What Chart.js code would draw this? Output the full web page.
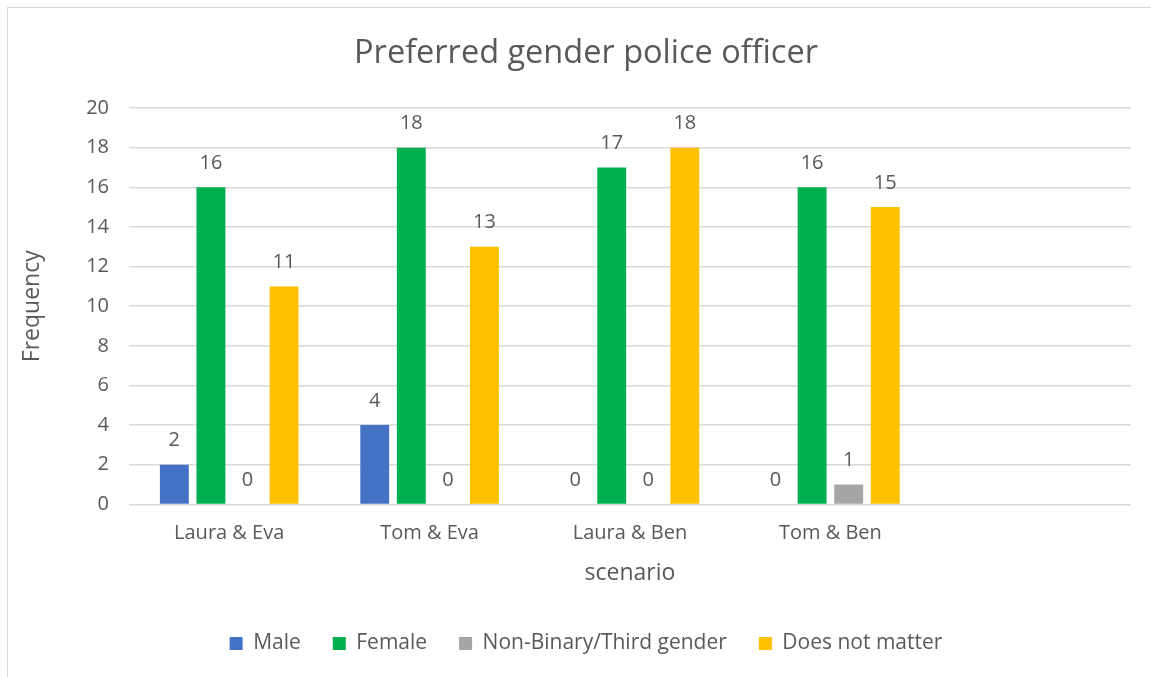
<!DOCTYPE html>
<html>
<head>
<meta charset="utf-8">
<script src="https://cdn.jsdelivr.net/npm/chart.js@4/dist/chart.umd.min.js"></script>
<style>
  html, body { margin: 0; padding: 0; background: #fff; overflow: hidden; }
  #box {
    position: absolute; left: 7px; top: 7px;
    width: 1154px; height: 670px;
    border-left: 1.5px solid #d9d9d9; border-top: 1.5px solid #d9d9d9;
  }
</style>
</head>
<body>
<div id="box"><canvas id="myChart"></canvas></div>
<script>
// scenarios (the last slot is left empty on purpose)
const scenarios = ['Laura & Eva', 'Tom & Eva', 'Laura & Ben', 'Tom & Ben', ''];
const male = [2, 4, 0, 0, null];
const female = [16, 18, 17, 16, null];
const nonBinary = [0, 0, 0, 1, null];
const noMatter = [11, 13, 18, 15, null];
const yTicks = [0, 2, 4, 6, 8, 10, 12, 14, 16, 18, 20];

const grey = '#595959';
const font = "'Open Sans', sans-serif";

// writes the value over each bar, like excel does
const valueLabels = {
  id: 'valueLabels',
  afterDatasetsDraw(chart) {
    const ctx = chart.ctx;
    ctx.save();
    ctx.fillStyle = grey;
    ctx.font = '20px ' + font;
    ctx.textAlign = 'center';
    ctx.textBaseline = 'bottom';
    chart.data.datasets.forEach((ds, i) => {
      chart.getDatasetMeta(i).data.forEach((bar, j) => {
        const v = ds.data[j];
        if (v === null || v === undefined) return;
        ctx.fillText(String(v), bar.x, bar.y - 14);
      });
    });
    ctx.restore();
  }
};

function bar(label, data, color) {
  return {
    label: label,
    data: data,
    backgroundColor: color,
    borderWidth: 0,
    categoryPercentage: 0.73,
    barPercentage: 0.79
  };
}

let canvas = document.getElementById('myChart');
let ctx = canvas.getContext('2d');

let chart = new Chart(ctx, {
  type: 'bar',
  data: {
    labels: scenarios,
    datasets: [
      bar('Male', male, '#4472C4'),
      bar('Female', female, '#00B050'),
      bar('Non-Binary/Third gender', nonBinary, '#A5A5A5'),
      bar('Does not matter', noMatter, '#FFC000')
    ]
  },
  options: {
    responsive: true,
    maintainAspectRatio: false,
    animation: false,
    layout: { padding: { left: 33, right: 31, top: 0, bottom: 14 } },
    plugins: {
      title: {
        display: true,
        text: 'Preferred gender police officer',
        color: grey,
        font: { family: font, size: 32.5, weight: 'normal' },
        padding: { top: 26.5, bottom: 34.5 }
      },
      legend: {
        position: 'bottom',
        labels: {
          color: grey,
          font: { family: font, size: 21 },
          boxWidth: 13,
          boxHeight: 13,
          padding: 32
        }
      },
      tooltip: { enabled: false }
    },
    scales: {
      x: {
        grid: { display: false },
        border: { display: false },
        ticks: { color: grey, font: { family: font, size: 20 }, padding: 9 },
        title: {
          display: true, text: 'scenario', color: grey,
          font: { family: font, size: 23 }, padding: { top: 5, bottom: 14 }
        }
      },
      y: {
        min: 0, max: 20,
        afterBuildTicks(scale) { scale.ticks = yTicks.map(v => ({ value: v })); },
        grid: { color: '#d9d9d9', lineWidth: 1.5, drawTicks: false },
        border: { display: false },
        ticks: { color: grey, font: { family: font, size: 20 }, padding: 20 },
        title: {
          display: true, text: 'Frequency', color: grey,
          font: { family: font, size: 23 }, padding: { top: -22, bottom: 0 }
        },
        afterFit(scale) { scale.width = 88; }
      }
    }
  },
  plugins: [valueLabels]
});
</script>
</body>
</html>
